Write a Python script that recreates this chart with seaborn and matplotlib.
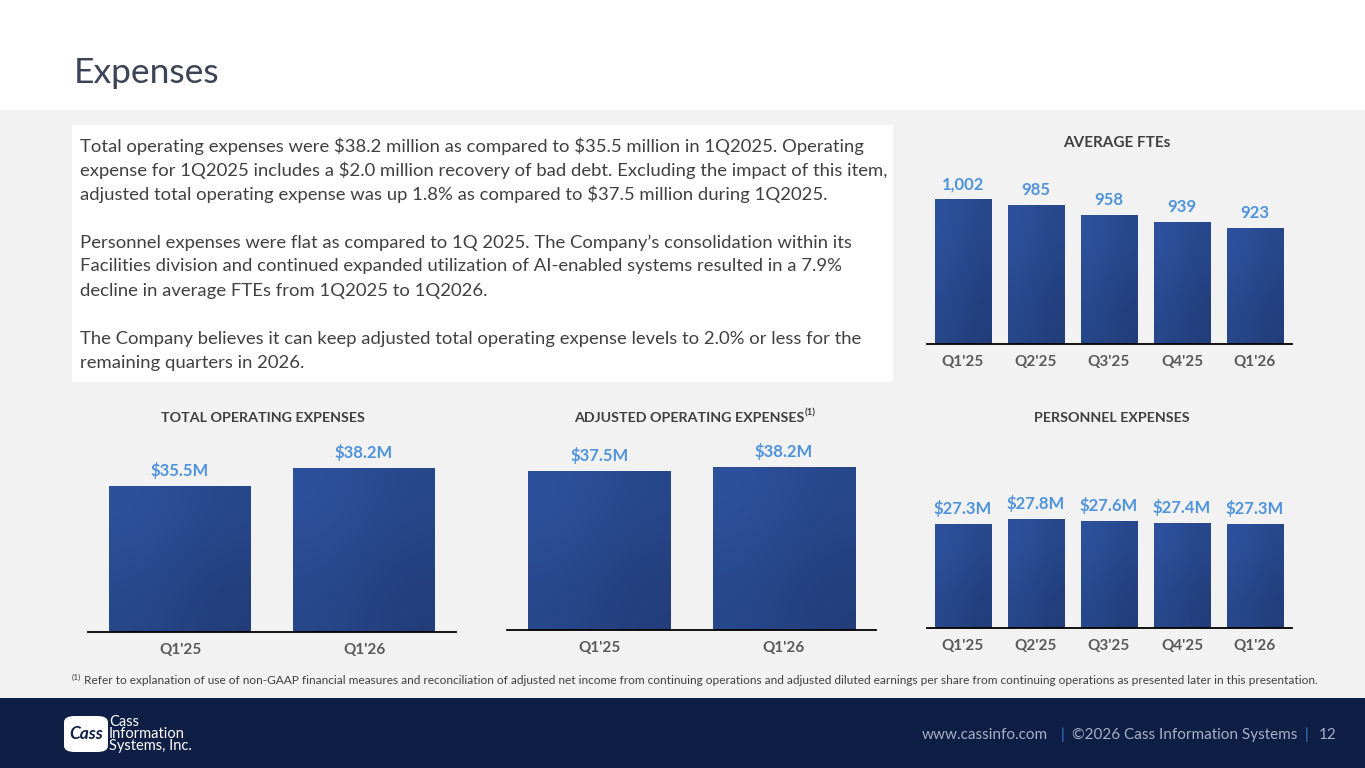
import numpy as np
import pandas as pd
import matplotlib
matplotlib.use("Agg")
import matplotlib.pyplot as plt
import seaborn as sns
from matplotlib.patches import Rectangle, FancyBboxPatch
from matplotlib.colors import LinearSegmentedColormap

# ---------------- data ----------------
fte_quarters = ["Q1'25", "Q2'25", "Q3'25", "Q4'25", "Q1'26"]
fte_values = [1002, 985, 958, 939, 923]
fte_labels = ["1,002", "985", "958", "939", "923"]

total_quarters = ["Q1'25", "Q1'26"]
total_values = [35.5, 38.2]
total_labels = ["\\$35.5M", "\\$38.2M"]

adj_quarters = ["Q1'25", "Q1'26"]
adj_values = [37.5, 38.2]
adj_labels = ["\\$37.5M", "\\$38.2M"]

pers_quarters = ["Q1'25", "Q2'25", "Q3'25", "Q4'25", "Q1'26"]
pers_values = [27.3, 27.8, 27.6, 27.4, 27.3]
pers_labels = ["\\$27.3M", "\\$27.8M", "\\$27.6M", "\\$27.4M", "\\$27.3M"]

body_lines = [
    "Total operating expenses were \\$38.2 million as compared to \\$35.5 million in 1Q2025. Operating",
    "expense for 1Q2025 includes a \\$2.0 million recovery of bad debt. Excluding the impact of this item,",
    "adjusted total operating expense was up 1.8% as compared to \\$37.5 million during 1Q2025.",
    "",
    "Personnel expenses were flat as compared to 1Q 2025. The Company\u2019s consolidation within its",
    "Facilities division and continued expanded utilization of AI-enabled systems resulted in a 7.9%",
    "decline in average FTEs from 1Q2025 to 1Q2026.",
    "",
    "The Company believes it can keep adjusted total operating expense levels to 2.0% or less for the",
    "remaining quarters in 2026.",
]
footnote = ("Refer to explanation of use of non-GAAP financial measures and reconciliation of adjusted net income "
            "from continuing operations and adjusted diluted earnings per share from continuing operations as "
            "presented later in this presentation.")

# ---------------- style ----------------
sns.set_style("white")
FONT = ["Lato", "DejaVu Sans"]
plt.rcParams["font.family"] = FONT

W, H = 1365, 768
BG = "#f2f2f2"
NAVY = "#0e1e44"
TITLE_C = "#3f3f3f"
TICK_C = "#595959"
VAL_C = "#4f93dc"
BODY_C = "#404040"

fig = plt.figure(figsize=(W / 100, H / 100), dpi=100)
fig.patch.set_facecolor(BG)


def fx(x):
    return x / W


def fy(y):
    return 1 - y / H


def rect(x0, y0, x1, y1, color, z=0):
    fig.patches.append(Rectangle((fx(x0), fy(y1)), fx(x1) - fx(x0), fy(y0) - fy(y1),
                                 transform=fig.transFigure, facecolor=color,
                                 edgecolor="none", zorder=z))


# header / footer / text box
rect(0, 0, W, 110, "white")
rect(0, 698, W, H, NAVY)
rect(72, 125, 893, 382, "white")

fig.text(fx(74), fy(73), "Expenses", fontsize=25.5, color="#3d4356", va="center", ha="left")

# body text
y = 146
for line in body_lines:
    if line:
        fig.text(fx(80), fy(y), line, fontsize=13.3, color=BODY_C, va="center", ha="left")
    y += 24.1

grad_cmap = LinearSegmentedColormap.from_list("barg", ["#2d529e", "#223d79"])
grad = np.array([[0.0, 0.5], [0.5, 1.0]])


def bar_chart(cats, vals, labels, box, base, top, title, title_xy, width=0.77, title_size=10.3):
    left, right, ytop, ybase = box
    ax = fig.add_axes([fx(left), fy(ybase), fx(right) - fx(left), fy(ytop) - fy(ybase)])
    ax.set_facecolor("none")
    df = pd.DataFrame({"q": cats, "v": vals})
    sns.barplot(data=df, x="q", y="v", ax=ax, color="#284690", saturation=1,
                width=width, edgecolor="none", errorbar=None)
    ax.set_ylim(base, top)
    ax.set_xlim(-0.5, len(cats) - 0.5)
    for p in list(ax.patches):
        x0 = p.get_x()
        x1 = x0 + p.get_width()
        h = p.get_height()
        im = ax.imshow(grad, cmap=grad_cmap, extent=(x0, x1, base, h), aspect="auto",
                       interpolation="bicubic", zorder=p.get_zorder() + 0.1)
        im.set_clip_path(p)
    ax.set_xlim(-0.5, len(cats) - 0.5)
    ax.set_ylim(base, top)
    for i, (v, lab) in enumerate(zip(vals, labels)):
        ax.annotate(lab, (i, v), xytext=(0, 5), textcoords="offset points", ha="center",
                    va="bottom", fontsize=12, fontweight="bold", color=VAL_C)
    for s in ["top", "left", "right"]:
        ax.spines[s].set_visible(False)
    ax.spines["bottom"].set_color("black")
    ax.spines["bottom"].set_linewidth(1.3)
    ax.set_yticks([])
    ax.set_xlabel("")
    ax.set_ylabel("")
    ax.tick_params(axis="x", length=0, pad=8, labelsize=11, labelcolor=TICK_C)
    for t in ax.get_xticklabels():
        t.set_fontweight("bold")
    fig.text(fx(title_xy[0]), fy(title_xy[1]), title, fontsize=title_size, fontweight="bold",
             color=TITLE_C, ha="center", va="center")
    return ax


# AVERAGE FTEs: baseline 344, 0.367 px/unit, base 607
bar_chart(fte_quarters, fte_values, fte_labels, (926.5, 1291.5, 160, 344), 607, 607 + 184 / 0.367,
          "AVERAGE FTEs", (1117, 143), title_size=11)
# TOTAL OPERATING EXPENSES: baseline 632, 6.67 px/unit, base 13.6
bar_chart(total_quarters, total_values, total_labels, (88, 456, 440, 632), 13.6, 13.6 + 192 / 6.67,
          "TOTAL OPERATING EXPENSES", (263, 418))
# ADJUSTED: baseline 630, 5.71 px/unit, base 9.7
bar_chart(adj_quarters, adj_values, adj_labels, (507, 876, 440, 630), 9.7, 9.7 + 190 / 5.71,
          "ADJUSTED OPERATING EXPENSES", (689, 418))
fig.text(fx(805), fy(413), "(1)", fontsize=7, fontweight="bold", color=TITLE_C, ha="left", va="center")
# PERSONNEL: baseline 628, 11 px/unit, base 17.85
bar_chart(pers_quarters, pers_values, pers_labels, (926.5, 1291.5, 440, 628), 17.85, 17.85 + 188 / 11,
          "PERSONNEL EXPENSES", (1112, 418))

# footnote
fig.text(fx(72), fy(677), "(1)", fontsize=6, color=BODY_C, ha="left", va="center")
fig.text(fx(84), fy(681), footnote, fontsize=8.57, color=BODY_C, ha="left", va="center")

# footer
fig.patches.append(FancyBboxPatch((fx(64), fy(752)), fx(44), fy(716) - fy(752),
                                  boxstyle="round,pad=0,rounding_size=0.008",
                                  transform=fig.transFigure, facecolor="white",
                                  edgecolor="none", zorder=2))
fig.text(fx(86), fy(734), "Cass", fontsize=12.5, fontstyle="italic", fontweight="bold",
         color=NAVY, ha="center", va="center", zorder=3)
fig.text(fx(109), fy(734), "Cass\nInformation\nSystems, Inc.", fontsize=10.5, color="white",
         ha="left", va="center", linespacing=0.8, zorder=3)

FOOT_C = "#a7b1c6"
fig.text(fx(1048), fy(735), "www.cassinfo.com", fontsize=11, color=FOOT_C, ha="right", va="center")
fig.text(fx(1062), fy(735), "|", fontsize=11, color="#3b7fd8", ha="center", va="center")
fig.text(fx(1297), fy(735), "\u00a92026 Cass Information Systems", fontsize=11, color=FOOT_C,
         ha="right", va="center")
fig.text(fx(1306), fy(735), "|", fontsize=11, color="#3b7fd8", ha="center", va="center")
fig.text(fx(1337), fy(735), "12", fontsize=11, color=FOOT_C, ha="right", va="center")

fig.savefig("out.png", dpi=100, facecolor=fig.get_facecolor())
